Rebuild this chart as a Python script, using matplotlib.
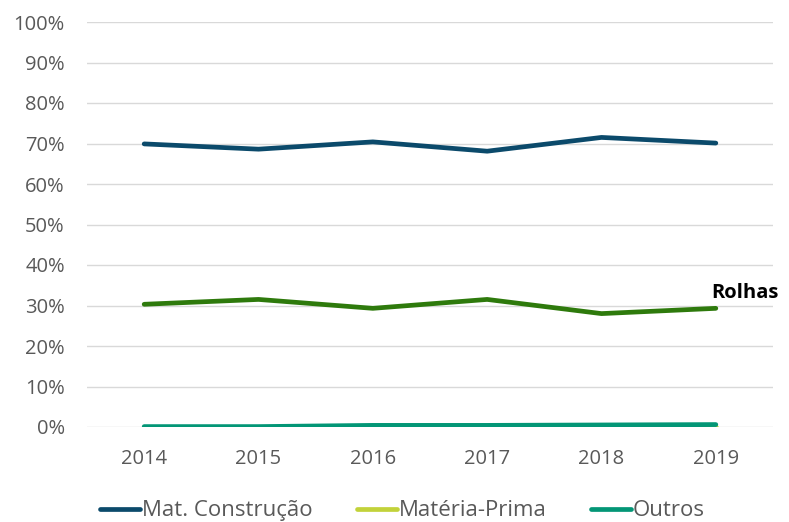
import matplotlib
matplotlib.use("Agg")
import matplotlib.pyplot as plt
from matplotlib.ticker import PercentFormatter

years = ["2014", "2015", "2016", "2017", "2018", "2019"]
mat_construcao = [69.9, 68.6, 70.4, 68.1, 71.5, 70.1]
rolhas = [30.3, 31.5, 29.3, 31.5, 28.0, 29.3]
materia_prima = [0.0, 0.0, 0.0, 0.0, 0.0, 0.0]
outros = [0.1, 0.1, 0.4, 0.4, 0.5, 0.6]

plt.rcParams['font.family'] = ['Open Sans', 'DejaVu Sans']

fig = plt.figure(figsize=(7.89, 5.22), dpi=100)
ax = fig.add_axes([87/789, 1-427/522, (773-87)/789, (427-22)/522])

x = list(range(len(years)))
lw = 3.4
ax.plot(x, mat_construcao, color="#0B4A6B", lw=lw, solid_capstyle="round", label="Mat. Construção", zorder=3)
ax.plot(x, rolhas, color="#2E7A0C", lw=lw, solid_capstyle="round", zorder=3)
ax.plot(x, materia_prima, color="#C2D23A", lw=lw, solid_capstyle="round", label="Matéria-Prima", zorder=3)
ax.plot(x, outros, color="#039676", lw=lw, solid_capstyle="round", label="Outros", zorder=4)

ax.text(x[-1] - 0.04, rolhas[-1] + 1.2, "Rolhas", fontsize=14.5, fontweight="bold", ha="left", va="bottom", color="black")

ax.set_xlim(-0.5, len(years) - 0.5)
ax.set_ylim(0, 100)
ax.set_yticks(range(0, 101, 10))
ax.yaxis.set_major_formatter(PercentFormatter(decimals=0))
ax.set_xticks(x)
ax.set_xticklabels(years)
ax.grid(axis="y", color="#D9D9D9", lw=1)
ax.set_axisbelow(True)
for s in ax.spines.values():
    s.set_visible(False)
ax.tick_params(length=0, labelsize=14.5, colors="#595959")
ax.tick_params(axis="y", pad=16)
ax.tick_params(axis="x", pad=16)

leg = ax.legend(loc="center", bbox_to_anchor=(0.46, -0.207), ncol=3, frameon=False,
                fontsize=16, handlelength=1.8, handletextpad=0.08, columnspacing=2.0,
                borderpad=0)
for t in leg.get_texts():
    t.set_color("#595959")

fig.savefig("out.png", dpi=100)
